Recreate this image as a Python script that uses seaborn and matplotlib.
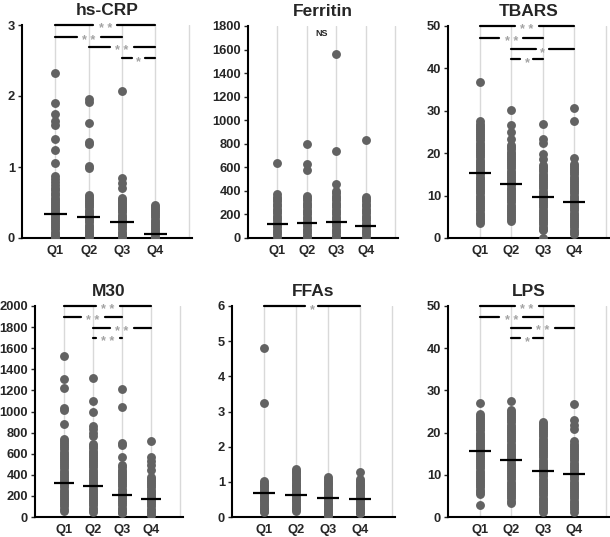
import numpy as np
import pandas as pd
import seaborn as sns
import matplotlib.pyplot as plt
from matplotlib.transforms import offset_copy

sns.set_style("white")
plt.rcParams['font.family'] = ['Liberation Sans', 'DejaVu Sans']

quartiles = ["Q1", "Q2", "Q3", "Q4"]

# hs-CRP
crp_q1 = [2.32, 1.90, 1.74, 1.65, 1.59, 1.39, 1.24, 1.06, 0.87, 0.83, 0.79, 0.75, 0.71, 0.67,
          0.63, 0.60, 0.57, 0.54, 0.51, 0.48, 0.45, 0.42, 0.39, 0.36, 0.33, 0.30, 0.27, 0.24,
          0.21, 0.18, 0.15, 0.12, 0.09, 0.06, 0.03, 0.00]
crp_q2 = [1.96, 1.92, 1.62, 1.35, 1.32, 1.02, 0.98, 0.61, 0.58, 0.55, 0.52, 0.49, 0.46, 0.43,
          0.40, 0.37, 0.34, 0.31, 0.28, 0.25, 0.22, 0.19, 0.16, 0.13, 0.10, 0.07, 0.04, 0.01]
crp_q3 = [2.07, 0.85, 0.77, 0.71, 0.57, 0.54, 0.51, 0.48, 0.45, 0.42, 0.39, 0.36, 0.33, 0.30,
          0.27, 0.24, 0.21, 0.18, 0.15, 0.12, 0.09, 0.06, 0.03, 0.00]
crp_q4 = [0.47, 0.44, 0.41, 0.38, 0.35, 0.32, 0.29, 0.26, 0.23, 0.20, 0.17, 0.14, 0.11, 0.08,
          0.05, 0.02, 0.00]
crp_med = [0.34, 0.29, 0.23, 0.05]

# Ferritin
fer_q1 = [640, 370, 350, 330, 310, 290, 270, 250, 230, 210, 190, 170, 150, 130, 110, 90, 70,
          50, 30, 10]
fer_q2 = [795, 625, 580, 360, 340, 320, 300, 280, 260, 240, 220, 200, 180, 160, 140, 120, 100,
          80, 60, 40, 20, 5]
fer_q3 = [1560, 740, 455, 400, 380, 360, 340, 320, 300, 280, 260, 240, 220, 200, 180, 160, 140,
          120, 100, 80, 60, 40, 20, 5]
fer_q4 = [830, 350, 330, 310, 290, 270, 250, 230, 210, 190, 170, 150, 130, 110, 90, 70, 50, 30,
          10]
fer_med = [115, 130, 138, 100]

# TBARS
tb_q1 = [36.8, 27.5, 27.0, 26.5, 26.0, 25.5, 25.0, 24.5, 24.0, 23.5, 23.0, 22.5, 22.0, 21.5,
         21.0, 20.5, 20.0, 19.5, 19.0, 18.5, 18.0, 17.5, 17.0, 16.5, 16.0, 15.5, 15.0, 14.5,
         14.0, 13.5, 13.0, 12.5, 12.0, 11.5, 11.0, 10.5, 10.0, 9.5, 9.0, 8.5, 8.0, 7.5, 7.0,
         6.5, 6.0, 5.5, 5.0, 4.5, 4.0, 3.5]
tb_q2 = [30.1, 26.6, 25.0, 23.4, 21.9, 21.4, 20.9, 20.4, 19.9, 19.4, 18.9, 18.4, 17.9, 17.4,
         16.9, 16.4, 15.9, 15.4, 14.9, 14.4, 13.9, 13.4, 12.9, 12.4, 11.9, 11.4, 10.9, 10.4,
         9.9, 9.4, 8.9, 8.4, 7.9, 7.4, 6.9, 6.4, 5.9, 5.4, 4.9, 4.4, 4.0]
tb_q3 = [26.8, 23.4, 22.3, 19.9, 18.7, 17.2, 16.7, 16.2, 15.7, 15.2, 14.7, 14.2, 13.7, 13.2,
         12.7, 12.2, 11.7, 11.2, 10.7, 10.2, 9.7, 9.2, 8.7, 8.2, 7.7, 7.2, 6.7, 6.2, 5.7, 5.2,
         4.7, 4.2, 3.7, 3.2, 2.7, 2.2, 1.8, 0.1]
tb_q4 = [30.7, 27.6, 18.9, 17.5, 17.0, 16.5, 16.0, 15.5, 15.0, 14.5, 14.0, 13.5, 13.0, 12.5,
         12.0, 11.5, 11.0, 10.5, 10.0, 9.5, 9.0, 8.5, 8.0, 7.5, 7.0, 6.5, 6.0, 5.5, 5.0, 4.5,
         4.0, 3.5, 3.0, 2.5, 2.0, 1.5, 1.0]
tb_med = [15.4, 12.7, 9.7, 8.5]

# M30
m30_q1 = [1530, 1310, 1220, 1030, 1010, 880, 740, 720, 700, 680, 660, 640, 620, 600, 580, 560,
          540, 520, 500, 480, 460, 440, 420, 400, 380, 360, 340, 320, 300, 280, 260, 240, 220,
          200, 180, 160, 140, 120, 100, 80, 60]
m30_q2 = [1320, 1100, 995, 860, 830, 800, 770, 690, 670, 650, 630, 610, 590, 570, 550, 530,
          510, 490, 470, 450, 430, 410, 390, 370, 350, 330, 310, 290, 270, 250, 230, 210, 190,
          170, 150, 130, 110, 90, 70, 50]
m30_q3 = [1210, 1040, 700, 680, 570, 490, 470, 450, 430, 410, 390, 370, 350, 330, 310, 290,
          270, 250, 230, 210, 190, 170, 150, 130, 110, 90, 70, 50, 40]
m30_q4 = [720, 570, 530, 490, 450, 380, 360, 340, 320, 300, 280, 260, 240, 220, 200, 180, 160,
          140, 120, 100, 80, 60, 40, 20]
m30_med = [320, 290, 205, 170]

# FFAs
ffa_q1 = [4.80, 3.25, 1.02, 0.97, 0.92, 0.87, 0.82, 0.77, 0.72, 0.67, 0.62, 0.57, 0.52, 0.47,
          0.42, 0.37, 0.32, 0.27, 0.22, 0.17, 0.15]
ffa_q2 = [1.37, 1.32, 1.27, 1.22, 1.17, 1.12, 1.07, 1.02, 0.97, 0.92, 0.87, 0.82, 0.77, 0.72,
          0.67, 0.62, 0.57, 0.52, 0.47, 0.42, 0.37, 0.32, 0.27, 0.22, 0.17]
ffa_q3 = [1.13, 1.08, 1.03, 0.98, 0.93, 0.88, 0.83, 0.78, 0.73, 0.68, 0.63, 0.58, 0.53, 0.48,
          0.43, 0.38, 0.33, 0.28, 0.23, 0.18, 0.13, 0.08, 0.03]
ffa_q4 = [1.27, 1.07, 1.02, 0.97, 0.92, 0.87, 0.82, 0.77, 0.72, 0.67, 0.62, 0.57, 0.52, 0.47,
          0.42, 0.37, 0.32, 0.27, 0.22, 0.17, 0.12, 0.10]
ffa_med = [0.67, 0.62, 0.54, 0.50]

# LPS
lps_q1 = [27.0, 24.5, 24.0, 23.5, 23.0, 22.5, 22.0, 21.5, 21.0, 20.5, 20.0, 19.5, 19.0, 18.5,
          18.0, 17.5, 17.0, 16.5, 16.0, 15.5, 15.0, 14.5, 14.0, 13.5, 13.0, 12.5, 12.0, 11.5,
          11.0, 10.5, 10.0, 9.5, 9.0, 8.5, 8.0, 7.5, 7.0, 6.5, 6.0, 5.5, 2.8]
lps_q2 = [27.5, 25.4, 24.9, 24.4, 23.9, 23.4, 22.9, 22.4, 21.9, 21.4, 20.9, 20.4, 19.9, 19.4,
          18.9, 18.4, 17.9, 17.4, 16.9, 16.4, 15.9, 15.4, 14.9, 14.4, 13.9, 13.4, 12.9, 12.4,
          11.9, 11.4, 10.9, 10.4, 9.9, 9.4, 8.9, 8.4, 7.9, 7.4, 6.9, 6.4, 5.9, 5.4, 4.9, 4.4,
          3.9, 3.4]
lps_q3 = [22.6, 22.1, 21.6, 21.1, 20.6, 20.1, 19.6, 19.1, 18.6, 18.1, 17.6, 17.1, 16.6, 16.1,
          15.6, 15.1, 14.6, 14.1, 13.6, 13.1, 12.6, 12.1, 11.6, 11.1, 10.6, 10.1, 9.6, 9.1,
          8.6, 8.1, 7.6, 7.1, 6.6, 6.1, 5.6, 5.1, 4.6, 4.1, 3.6, 3.1, 2.6, 2.1, 1.6, 1.3]
lps_q4 = [26.8, 23.0, 21.8, 20.8, 17.9, 17.4, 16.9, 16.4, 15.9, 15.4, 14.9, 14.4, 13.9, 13.4,
          12.9, 12.4, 11.9, 11.4, 10.9, 10.4, 9.9, 9.4, 8.9, 8.4, 7.9, 7.4, 6.9, 6.4, 5.9, 5.4,
          4.9, 4.4, 3.9, 3.4, 2.9, 2.4, 1.9, 1.3]
lps_med = [15.7, 13.6, 11.0, 10.1]

# significance brackets: (from, to, height, label)
crp_sig = [(0, 3, 3.0, "* *"), (0, 2, 2.83, "* *"), (1, 3, 2.69, "* *"), (2, 3, 2.53, "*")]
tb_sig = [(0, 3, 50, "* *"), (0, 2, 47.1, "* *"), (1, 3, 44.6, "*"), (1, 2, 42.1, "*")]
m30_sig = [(0, 3, 2000, "* *"), (0, 2, 1895, "* *"), (1, 3, 1795, "* *"), (1, 2, 1700, "* *")]
ffa_sig = [(0, 3, 6, "*")]
lps_sig = [(0, 3, 50, "* *"), (0, 2, 47.3, "* *"), (1, 3, 44.9, "* *"), (1, 2, 42.3, "*")]

W, H = 610, 537
fig = plt.figure(figsize=(W / 100, H / 100), dpi=100)


def px_axes(left, top, right, bottom):
    return fig.add_axes([left / W, 1 - bottom / H, (right - left) / W, (bottom - top) / H])


def panel(ax, title, groups, med, sig, ymax, ystep):
    df = pd.DataFrame({
        "q": np.repeat(quartiles, [len(g) for g in groups]),
        "v": np.concatenate(groups),
    })
    sns.stripplot(data=df, x="q", y="v", order=quartiles, jitter=False,
                  color="#626262", size=6.4, linewidth=0, ax=ax, zorder=3)
    ax.hlines(med, np.arange(4) - 0.35, np.arange(4) + 0.35, color="black",
              linewidth=1.6, zorder=4)
    for x in range(5):
        ax.axvline(x, color="#d9d9d9", linewidth=1.0, zorder=0)
    ax.set_xlim(-1, 4.1)
    ax.set_ylim(0, ymax)
    ax.set_yticks(np.arange(0, ymax + ystep / 2, ystep))
    ax.set_xticks(range(4))
    ax.set_xticklabels(quartiles)
    ax.set_xlabel("")
    ax.set_ylabel("")
    for lab in ax.get_xticklabels() + ax.get_yticklabels():
        lab.set_fontweight("bold")
    ax.tick_params(axis="x", length=0, labelsize=9.3, pad=5)
    ax.tick_params(axis="y", length=3, width=1, direction="out", labelsize=9.3, pad=2, left=True)
    for s in ["top", "right"]:
        ax.spines[s].set_visible(False)
    for s in ["left", "bottom"]:
        ax.spines[s].set_color("black")
        ax.spines[s].set_linewidth(1.5)
    ax.set_title(title, fontsize=12.5, fontweight="bold", pad=7)

    # brackets with a gap for the stars
    px_per_unit = ax.get_position().width * W / 5.1
    star_tr = offset_copy(ax.transData, fig=fig, y=-5.0, units="points")
    for a, b, y, lab in sig:
        mid = (a + b) / 2
        half = (12 if len(lab) > 1 else 6.5) / px_per_unit
        ax.plot([a, mid - half], [y, y], color="black", linewidth=1.6, clip_on=False, zorder=5)
        ax.plot([mid + half, b], [y, y], color="black", linewidth=1.6, clip_on=False, zorder=5)
        ax.text(mid, y, lab, ha="center", va="baseline", color="#a3a3a3",
                fontsize=9, fontweight="bold", zorder=6, clip_on=False, transform=star_tr)


ax1 = px_axes(22, 25, 192, 238)
panel(ax1, "hs-CRP", [crp_q1, crp_q2, crp_q3, crp_q4], crp_med, crp_sig, 3, 1)

ax2 = px_axes(248, 26, 398, 238)
panel(ax2, "Ferritin", [fer_q1, fer_q2, fer_q3, fer_q4], fer_med, [], 1800, 200)
ax2.text(1.5, 1740, "NS", ha="center", va="center", fontsize=6.5, fontweight="bold")

ax3 = px_axes(448, 26, 609, 238)
panel(ax3, "TBARS", [tb_q1, tb_q2, tb_q3, tb_q4], tb_med, tb_sig, 50, 10)

ax4 = px_axes(35, 306, 183, 517)
panel(ax4, "M30", [m30_q1, m30_q2, m30_q3, m30_q4], m30_med, m30_sig, 2000, 200)

ax5 = px_axes(232, 306, 395, 517)
panel(ax5, "FFAs", [ffa_q1, ffa_q2, ffa_q3, ffa_q4], ffa_med, ffa_sig, 6, 1)

ax6 = px_axes(448, 306, 609, 517)
panel(ax6, "LPS", [lps_q1, lps_q2, lps_q3, lps_q4], lps_med, lps_sig, 50, 10)

fig.savefig("out.png", dpi=100)
